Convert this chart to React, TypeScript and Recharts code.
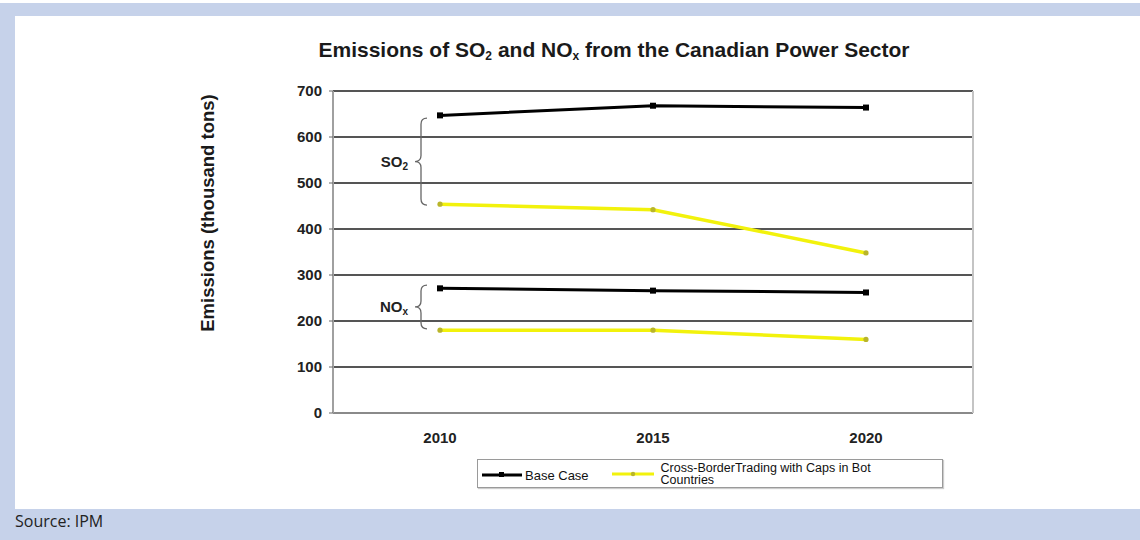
import React from 'react';
import { LineChart, Line, XAxis, YAxis, CartesianGrid, Legend, ReferenceArea, Label } from 'recharts';

const years = ['2010', '2015', '2020'];
const baseSO2 = [647, 668, 664];
const capsSO2 = [454, 442, 348];
const baseNOx = [271, 266, 262];
const capsNOx = [180, 180, 160];
const yTicks = [0, 100, 200, 300, 400, 500, 600, 700];
const seriesNames = ['Base Case', 'Cross-BorderTrading with Caps in Bot', 'Countries'];
const so2Range = [452, 641];
const noxRange = [183, 278];

const data = years.map((y, i) => ({
  year: y,
  baseSO2: baseSO2[i],
  capsSO2: capsSO2[i],
  baseNOx: baseNOx[i],
  capsNOx: capsNOx[i],
}));

const FONT = '"Liberation Sans", Arial, Helvetica, sans-serif';
const YELLOW = '#f2f20c';

const SquareDot = (p: any) => (
  <rect key={`sq-${p.dataKey}-${p.index}`} x={p.cx - 3} y={p.cy - 3} width={6} height={6} fill="#000" />
);
const YellowDot = (p: any) => (
  <circle key={`yd-${p.dataKey}-${p.index}`} cx={p.cx} cy={p.cy} r={2.6} fill="#b9b52a" />
);

// The reference area spans the category points; the brace sits just left of the first point.
const makeBrace = (main: string, sub: string) => (props: any) => {
  const vb = props.viewBox || {};
  const x = vb.x, y = vb.y, h = vb.height;
  const xl = x - 25, xm = x - 19, xr = x - 13;
  const yt = y, yb = y + h, ym = y + h / 2;
  const r = 6;
  const d = `M ${xr} ${yt} Q ${xm} ${yt} ${xm} ${yt + r} L ${xm} ${ym - r} Q ${xm} ${ym} ${xl} ${ym} Q ${xm} ${ym} ${xm} ${ym + r} L ${xm} ${yb - r} Q ${xm} ${yb} ${xr} ${yb}`;
  return (
    <g>
      <path d={d} fill="none" stroke="#666" strokeWidth={1.3} />
      <text x={xl - 7} y={ym + 5} textAnchor="end" fontFamily={FONT} fontWeight="bold" fontSize={15} fill="#222">
        {main}
        <tspan fontSize={10} dy={3}>{sub}</tspan>
      </text>
    </g>
  );
};

const YLabel = (props: any) => {
  const vb = props.viewBox || {};
  const cx = vb.x + vb.width - 126;
  const cy = vb.y + 122;
  return (
    <text x={cx} y={cy} transform={`rotate(-90 ${cx} ${cy})`} textAnchor="middle" dominantBaseline="central"
      fontFamily={FONT} fontWeight="bold" fontSize={18.5} fill="#1a1a1a">
      Emissions (thousand tons)
    </text>
  );
};

const LegendBox = () => (
  <div style={{
    width: 466, height: 29, border: '1px solid #9a9a9a', boxSizing: 'border-box', background: '#fff',
    display: 'flex', alignItems: 'center', fontFamily: FONT, fontSize: 13, color: '#111',
    boxShadow: '1px 1px 1px #ccc',
  }}>
    <svg width={40} height={12} style={{ marginLeft: 4, flex: 'none' }}>
      <line x1={0} y1={7} x2={40} y2={7} stroke="#000" strokeWidth={3} />
      <rect x={17} y={4} width={5} height={5} fill="#000" />
    </svg>
    <span style={{ marginLeft: 3, marginTop: 4 }}>{seriesNames[0]}</span>
    <svg width={42} height={12} style={{ marginLeft: 23, flex: 'none' }}>
      <line x1={0} y1={6} x2={42} y2={6} stroke={YELLOW} strokeWidth={3} />
      <circle cx={21} cy={6} r={2.2} fill="#b9b52a" />
    </svg>
    <div style={{ marginLeft: 7, fontSize: 12.5, lineHeight: '12.5px', marginTop: 1 }}>
      <div>{seriesNames[1]}</div>
      <div>{seriesNames[2]}</div>
    </div>
  </div>
);

export default function App() {
  return (
    <div style={{ position: 'fixed', left: 0, top: 0, width: 1140, height: 540, background: '#fff', overflow: 'hidden' }}>
      <div style={{ position: 'absolute', left: 0, top: 3, width: 1140, height: 537, background: '#c6d2ea' }} />
      <div style={{ position: 'absolute', left: 15, top: 16, width: 1125, height: 493, background: '#fff' }} />
      <div style={{
        position: 'absolute', left: 614, top: 38, transform: 'translateX(-50%)', whiteSpace: 'nowrap',
        fontFamily: FONT, fontWeight: 'bold', fontSize: 21, color: '#1a1a1a', lineHeight: '24px',
      }}>
        Emissions of SO<sub style={{ fontSize: 12, verticalAlign: -3 }}>2</sub> and NO<sub style={{ fontSize: 12, verticalAlign: -3 }}>x</sub> from the Canadian Power Sector
      </div>
      <div style={{ position: 'absolute', left: 0, top: 0 }}>
        <LineChart width={1140} height={540} data={data} margin={{ top: 91, right: 157, bottom: 97, left: 273 }}>
          <CartesianGrid horizontal vertical={false} stroke="#555" strokeWidth={2} />
          <XAxis dataKey="year" padding={{ left: 107, right: 107 }} tickLine={false} tickMargin={13}
            axisLine={{ stroke: '#8a8a8a', strokeWidth: 2 }} height={30}
            tick={{ fontSize: 15, fontWeight: 'bold', fontFamily: FONT, fill: '#222' }} />
          <YAxis domain={[0, 700]} ticks={yTicks} width={60} tickSize={4} tickMargin={7}
            axisLine={{ stroke: '#a0a0a0', strokeWidth: 2 }} tickLine={{ stroke: '#666' }}
            tick={{ fontSize: 15, fontWeight: 'bold', fontFamily: FONT, fill: '#222' }} interval={0}>
            <Label content={YLabel} />
          </YAxis>
          <YAxis yAxisId="right" orientation="right" width={10} tick={false} tickLine={false}
            axisLine={{ stroke: '#c4c4c4', strokeWidth: 2 }} domain={[0, 700]} />
          <ReferenceArea y1={so2Range[0]} y2={so2Range[1]} fill="none" fillOpacity={0} stroke="none"
            label={{ content: makeBrace('SO', '2') } as any} />
          <ReferenceArea y1={noxRange[0]} y2={noxRange[1]} fill="none" fillOpacity={0} stroke="none"
            label={{ content: makeBrace('NO', 'x') } as any} />
          <Line dataKey="baseSO2" name={seriesNames[0]} stroke="#000" strokeWidth={3} dot={SquareDot} isAnimationActive={false} />
          <Line dataKey="capsSO2" name={seriesNames[1]} stroke={YELLOW} strokeWidth={3.5} dot={YellowDot} isAnimationActive={false} />
          <Line dataKey="baseNOx" name={seriesNames[0]} stroke="#000" strokeWidth={3} dot={SquareDot} isAnimationActive={false} />
          <Line dataKey="capsNOx" name={seriesNames[1]} stroke={YELLOW} strokeWidth={3.5} dot={YellowDot} isAnimationActive={false} />
          <Legend content={<LegendBox />} layout="horizontal" verticalAlign="middle" align="center"
            wrapperStyle={{ position: 'absolute', left: 477, top: 459, width: 466, height: 29 }} />
        </LineChart>
      </div>
      <div style={{
        position: 'absolute', left: 15, top: 510, fontFamily: '"Open Sans", "Noto Sans", sans-serif',
        fontSize: 16, color: '#222', lineHeight: '22px',
      }}>
        Source: IPM
      </div>
    </div>
  );
}
